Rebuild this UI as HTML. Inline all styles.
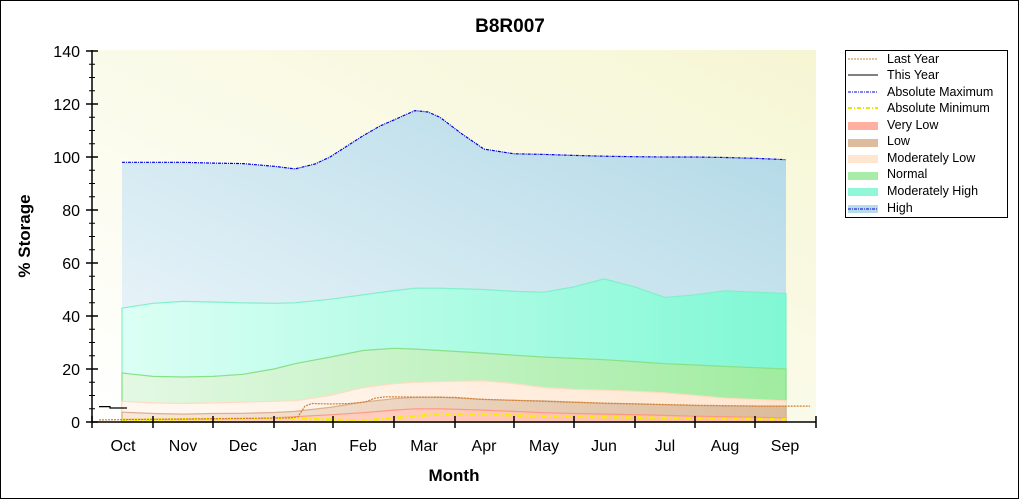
<!DOCTYPE html>
<html><head><meta charset="utf-8"><style>
html,body{margin:0;padding:0;background:#fff}
svg{display:block;font-family:"Liberation Sans",Arial,sans-serif}
</style></head><body>
<svg width="1020" height="500" viewBox="0 0 1020 500" xmlns="http://www.w3.org/2000/svg">
<defs>
<linearGradient id="bg" x1="0" y1="1" x2="1" y2="0"><stop offset="0" stop-color="#ffffff"/><stop offset="1" stop-color="#f6f6d4"/></linearGradient>
<linearGradient id="gH" x1="0" y1="1" x2="1" y2="0"><stop offset="0" stop-color="#f2f8fc"/><stop offset="1" stop-color="#b0d8e6"/></linearGradient>
<linearGradient id="gMH" x1="0" y1="0" x2="1" y2="0"><stop offset="0" stop-color="#dcfff4"/><stop offset="1" stop-color="#80f8d4"/></linearGradient>
<linearGradient id="gN" x1="0" y1="0" x2="1" y2="0"><stop offset="0" stop-color="#e4f8e4"/><stop offset="1" stop-color="#a0eca0"/></linearGradient>
<linearGradient id="gML" x1="0" y1="0" x2="1" y2="0"><stop offset="0" stop-color="#fff8f2"/><stop offset="1" stop-color="#ffe6d0"/></linearGradient>
<linearGradient id="gL" x1="0" y1="0" x2="1" y2="0"><stop offset="0" stop-color="#f8e8dc"/><stop offset="1" stop-color="#dcbc9c"/></linearGradient>
<linearGradient id="gVL" x1="0" y1="0" x2="1" y2="0"><stop offset="0" stop-color="#ffd8cc"/><stop offset="1" stop-color="#ffb8a8"/></linearGradient>
</defs>
<rect x="0.5" y="0.5" width="1018" height="498" fill="#fff" stroke="#000"/>
<rect x="92" y="50" width="724" height="372" fill="url(#bg)"/>

<path d="M122,162.3 L153,162.3 L183,162.3 L213,163.1 L243,163.6 L274,166.3 L295,168.9 L315,164 L330,157 L363,135.8 L380,126 L394,119.9 L405,115 L415,110.6 L428,112 L440,117.3 L462,134 L484,149.1 L514,153.8 L544,154.4 L574,155.4 L604,156.2 L635,156.7 L665,157 L695,157 L725,157.5 L755,158.3 L786,159.7 L786,422 L122,422 Z" fill="url(#gH)"/>
<path d="M122,308.1 L153,303.3 L183,301.4 L213,302 L243,302.8 L274,303.3 L295,302.8 L330,299.3 L363,294.8 L394,290.6 L415,288.2 L440,288.2 L484,289.5 L514,291.4 L544,292.2 L574,286.9 L604,278.9 L635,286.9 L665,297.5 L695,294.8 L725,290.8 L755,292.2 L786,293.5 L786,422 L122,422 Z" fill="url(#gMH)" stroke="#80f0c8" stroke-width="1.2"/>
<path d="M122,373 L153,376.4 L183,377 L213,376.4 L243,374.3 L274,369 L295,363.7 L330,357.1 L363,350.5 L394,348.3 L415,349.1 L440,350.5 L484,353.1 L514,355.2 L544,357.1 L574,358.4 L604,359.7 L635,361.6 L665,363.7 L695,365 L725,366.4 L755,367.7 L786,369 L786,422 L122,422 Z" fill="url(#gN)" stroke="#88e088" stroke-width="1.2"/>
<path d="M122,401.3 L153,402.9 L183,403.5 L213,402.9 L243,402.1 L274,401.3 L295,400.8 L330,395.5 L363,387.6 L394,383.6 L415,382.3 L440,381.5 L484,380.9 L514,383.6 L544,387.6 L574,389.4 L604,390.2 L635,391.3 L665,392.9 L695,395.5 L725,398.2 L755,399.5 L786,400.8 L786,422 L122,422 Z" fill="url(#gML)" stroke="#ffdcc0" stroke-width="1.2"/>
<path d="M122,412.2 L153,413.5 L183,414.1 L213,413.5 L243,413.3 L274,412.5 L295,411.4 L330,407.4 L363,402.1 L394,398.7 L415,397.4 L440,397.1 L484,399.5 L514,400.3 L544,400.8 L574,402.1 L604,403.5 L635,404 L665,404.8 L695,405.6 L725,406.1 L755,406.1 L786,406.1 L786,422 L122,422 Z" fill="url(#gL)" stroke="#d8b090" stroke-width="1.2"/>
<path d="M122,419.4 L153,419.4 L183,419.4 L213,419.1 L243,418.6 L274,417.8 L295,416.7 L330,414.8 L363,412.7 L394,410.1 L415,408.8 L440,408.8 L484,410.1 L514,411.4 L544,412.7 L574,413.5 L604,414.1 L635,414.6 L665,415.4 L695,416.2 L725,416.7 L755,417.2 L786,418 L786,422 L122,422 Z" fill="url(#gVL)" stroke="#ff9880" stroke-width="1.2"/>

<path d="M122,162.3 L153,162.3 L183,162.3 L213,163.1 L243,163.6 L274,166.3 L295,168.9 L315,164 L330,157 L363,135.8 L380,126 L394,119.9 L405,115 L415,110.6 L428,112 L440,117.3 L462,134 L484,149.1 L514,153.8 L544,154.4 L574,155.4 L604,156.2 L635,156.7 L665,157 L695,157 L725,157.5 L755,158.3 L786,159.7" fill="none" stroke="#0000e0" stroke-width="1.2" stroke-dasharray="3,1,1,1"/>
<path d="M122,420 L213,419 L295,418.5 L363,420.7 L394,418 L440,414 L484,414.6 L544,416.2 L604,417.2 L665,418 L725,418.8 L786,419.4" fill="none" stroke="#f0f000" stroke-width="2.5" stroke-dasharray="5,3,1,3"/>
<path d="M99,419.9 L200,418.8 L290,418 L298,416.7 L305,406.1 L312,403.5 L330,404 L350,403.5 L365,402.1 L375,398.2 L385,396.8 L455,397.4 L480,399.2 L560,401.9 L620,403.5 L700,405.3 L760,406.1 L810,406.1" fill="none" stroke="#d08030" stroke-width="1.2" stroke-dasharray="2,1"/>
<path d="M99,406.6 L110,406.6 L110,408 L127,408" fill="none" stroke="#000" stroke-width="1.2"/>

<g stroke="#000" stroke-width="1.5" fill="none">
<line x1="92" y1="50" x2="92" y2="422"/>
<line x1="92" y1="422" x2="816" y2="422"/>
<path d="M86,422h12M86,369h12M86,316h12M86,263h12M86,210h12M86,157h12M86,104h12M86,51h12" />
<path stroke-width="1" d="M89,408.75h6M89,395.5h6M89,382.25h6M89,355.75h6M89,342.5h6M89,329.25h6M89,302.75h6M89,289.5h6M89,276.25h6M89,249.75h6M89,236.5h6M89,223.25h6M89,196.75h6M89,183.5h6M89,170.25h6M89,143.75h6M89,130.5h6M89,117.25h6M89,90.75h6M89,77.5h6M89,64.25h6"/>
<path d="M92,416v12M153,416v12M213,416v12M274,416v12M333,416v12M394,416v12M455,416v12M514,416v12M574,416v12M635,416v12M695,416v12M755,416v12M816,416v12"/>
</g>
<g font-size="16" text-anchor="end" fill="#000">
<text x="80" y="428">0</text><text x="80" y="375">20</text><text x="80" y="322">40</text><text x="80" y="269">60</text><text x="80" y="216">80</text><text x="80" y="163">100</text><text x="80" y="110">120</text><text x="80" y="57">140</text>
</g>
<g font-size="16" text-anchor="middle" fill="#000">
<text x="123" y="451">Oct</text><text x="183" y="451">Nov</text><text x="243" y="451">Dec</text><text x="304" y="451">Jan</text><text x="363" y="451">Feb</text><text x="424" y="451">Mar</text><text x="484" y="451">Apr</text><text x="544" y="451">May</text><text x="604" y="451">Jun</text><text x="665" y="451">Jul</text><text x="725" y="451">Aug</text><text x="785" y="451">Sep</text>
</g>
<text x="510" y="32" font-size="19" font-weight="bold" text-anchor="middle">B8R007</text>
<text x="454" y="481" font-size="17" font-weight="bold" text-anchor="middle">Month</text>
<text transform="translate(30,236) rotate(-90)" font-size="17" font-weight="bold" text-anchor="middle">% Storage</text>
<g>
<rect x="845.5" y="50.5" width="162" height="167" fill="#fff" stroke="#000"/>
<g font-size="12.5" fill="#000">
<text x="887" y="63">Last Year</text><text x="887" y="79">This Year</text><text x="887" y="96">Absolute Maximum</text><text x="887" y="112">Absolute Minimum</text><text x="887" y="129">Very Low</text><text x="887" y="145">Low</text><text x="887" y="162">Moderately Low</text><text x="887" y="178">Normal</text><text x="887" y="195">Moderately High</text><text x="887" y="212">High</text>
</g>
<line x1="848" y1="59" x2="878" y2="59" stroke="#d08030" stroke-dasharray="2,1"/>
<line x1="848" y1="75" x2="878" y2="75" stroke="#000"/>
<line x1="848" y1="92" x2="878" y2="92" stroke="#0000e0" stroke-dasharray="3,1,1,1"/>
<line x1="848" y1="108" x2="878" y2="108" stroke="#e8e800" stroke-width="2" stroke-dasharray="4,2,1,2"/>
<rect x="848" y="122" width="30" height="8" fill="#ffb0a0"/>
<rect x="848" y="139" width="30" height="8" fill="#dcbc9c"/>
<rect x="848" y="155" width="30" height="8" fill="#ffe6d0"/>
<rect x="848" y="172" width="30" height="8" fill="#a8eca8"/>
<rect x="848" y="188" width="30" height="8" fill="#90f8d8"/>
<rect x="848" y="205" width="30" height="8" fill="#b8dce8"/>
<line x1="848" y1="209" x2="878" y2="209" stroke="#0000e0" stroke-dasharray="3,1,1,1"/>
</g>
</svg>
</body></html>
